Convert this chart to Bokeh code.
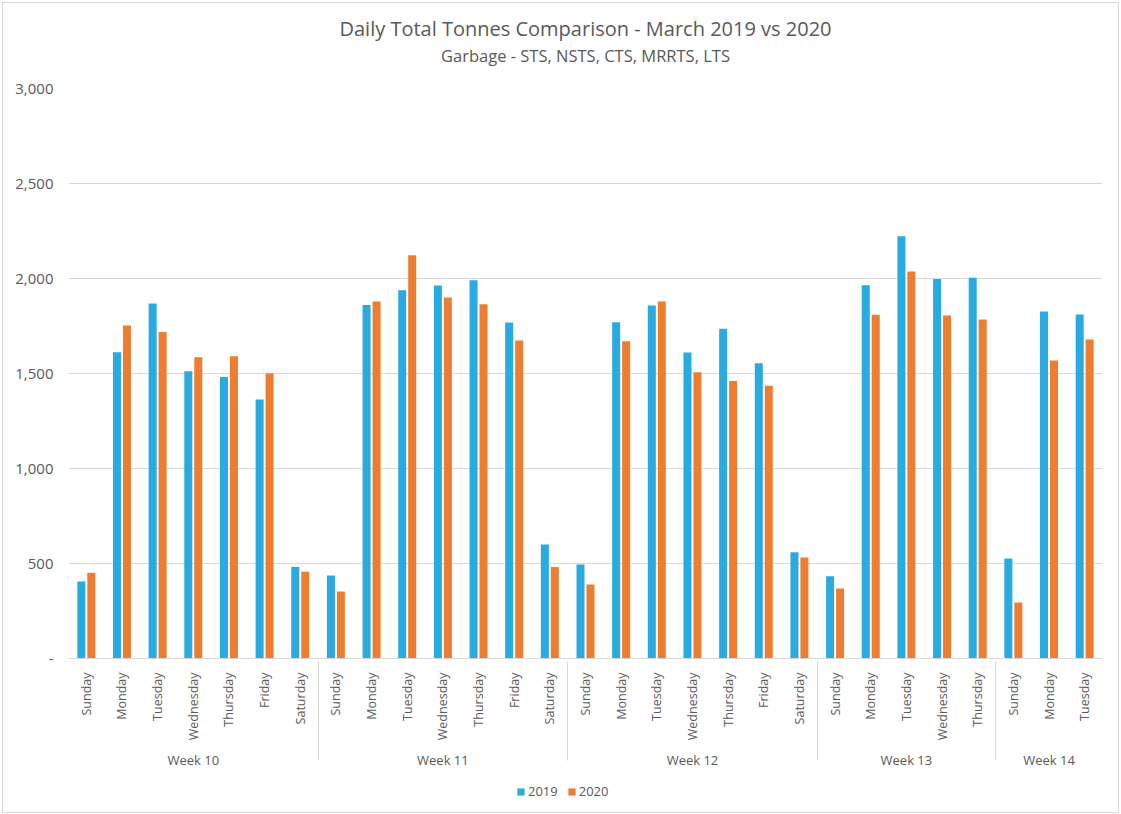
import math
from bokeh.plotting import figure
from bokeh.layouts import column
from bokeh.models import (FactorRange, ColumnDataSource, Legend, LegendItem,
                          FixedTicker, NumeralTickFormatter, Title, Range1d)
from bokeh.transform import dodge
from bokeh.embed import file_html
from bokeh.resources import INLINE

# ---------------- data ----------------
weeks = (["Week 10"] * 7 + ["Week 11"] * 7 + ["Week 12"] * 7 +
         ["Week 13"] * 5 + ["Week 14"] * 3)
days = (["Sunday", "Monday", "Tuesday", "Wednesday", "Thursday", "Friday", "Saturday"] * 3 +
        ["Sunday", "Monday", "Tuesday", "Wednesday", "Thursday"] +
        ["Sunday", "Monday", "Tuesday"])
tonnes_2019 = [405, 1612, 1868, 1512, 1482, 1363, 481,
               437, 1861, 1938, 1963, 1991, 1768, 600,
               495, 1770, 1858, 1611, 1735, 1554, 559,
               433, 1965, 2223, 1998, 2004,
               526, 1826, 1810]
tonnes_2020 = [451, 1753, 1719, 1586, 1591, 1500, 456,
               353, 1879, 2123, 1900, 1865, 1674, 481,
               389, 1670, 1879, 1507, 1461, 1435, 532,
               368, 1809, 2037, 1805, 1784,
               295, 1568, 1679]
y_ticks = [0, 500, 1000, 1500, 2000, 2500, 3000]
series_names = ["2019", "2020"]

title_text = "Daily Total Tonnes Comparison - March 2019 vs 2020"
subtitle_text = "Garbage - STS, NSTS, CTS, MRRTS, LTS"

# ---------------- styling ----------------
BLUE = "#29ABE2"
ORANGE = "#ED7D31"
TEXT = "#595959"
GRID = "#D9D9D9"
FONT = "Open Sans"

factors = list(zip(weeks, days))
source = ColumnDataSource(dict(x=factors, y2019=tonnes_2019, y2020=tonnes_2020))

x_range = FactorRange(factors=factors, group_padding=0, factor_padding=0,
                      range_padding=0)

p = figure(x_range=x_range, y_range=Range1d(0, 3000),
           frame_width=1034, frame_height=570, output_backend="svg",
           toolbar_location=None, title=None,
           min_border_left=65, min_border_right=16, min_border_top=85,
           min_border_bottom=120)

r1 = p.vbar(x=dodge("x", -0.14, range=p.x_range), top="y2019", width=0.225,
            source=source, color=BLUE, line_color=None)
r2 = p.vbar(x=dodge("x", 0.14, range=p.x_range), top="y2020", width=0.225,
            source=source, color=ORANGE, line_color=None)

# titles (spacer closest to the frame, then subtitle, then main title)
p.add_layout(Title(text=" ", text_font_size="2px", standoff=18), "above")
p.add_layout(Title(text=subtitle_text, align="center", text_font=FONT,
                   text_font_size="16.5px", text_font_style="normal",
                   text_color=TEXT, standoff=0, offset=-23), "above")
p.add_layout(Title(text=title_text, align="center", text_font=FONT,
                   text_font_size="20px", text_font_style="normal",
                   text_color=TEXT, standoff=0, offset=-23), "above")

# y axis
p.yaxis.ticker = FixedTicker(ticks=y_ticks)
p.yaxis.formatter = NumeralTickFormatter(format="0,0")
p.yaxis.major_label_overrides = {0: "-"}
p.yaxis.axis_line_color = None
p.yaxis.major_tick_line_color = None
p.yaxis.minor_tick_line_color = None
p.yaxis.major_label_text_font = FONT
p.yaxis.major_label_text_font_size = "15px"
p.yaxis.major_label_text_color = TEXT
p.yaxis.major_label_standoff = 9

# x axis
p.xaxis.axis_line_color = GRID
p.xaxis.major_tick_line_color = None
p.xaxis.minor_tick_line_color = None
p.xaxis.major_label_orientation = math.pi / 2
p.xaxis.major_label_standoff = 8
p.xaxis.major_label_text_font = FONT
p.xaxis.major_label_text_font_size = "12.5px"
p.xaxis.major_label_text_color = TEXT
p.xaxis.group_text_font = FONT
p.xaxis.group_text_font_size = "13px"
p.xaxis.group_text_color = TEXT
p.xaxis.group_text_font_style = "normal"
p.xaxis.separator_line_color = GRID
p.xaxis.separator_line_width = 1

p.xgrid.grid_line_color = None
p.ygrid.grid_line_color = GRID
p.outline_line_color = None

# ---------------- legend strip below the chart ----------------
lf = figure(width=1115, height=34, x_range=Range1d(0, 1), y_range=Range1d(0, 1),
            x_axis_type=None, y_axis_type=None, output_backend="svg",
            toolbar_location=None, min_border=0)
lf.xgrid.grid_line_color = None
lf.ygrid.grid_line_color = None
lf.outline_line_color = None
# zero-height key bars: they only give the legend its swatches
key = ColumnDataSource(dict(x=[0.5], top=[0]))
k1 = lf.vbar(x="x", top="top", width=0.01, source=key, color=BLUE, line_color=None)
k2 = lf.vbar(x="x", top="top", width=0.01, source=key, color=ORANGE, line_color=None)

legend = Legend(items=[LegendItem(label=series_names[0], renderers=[k1]),
                       LegendItem(label=series_names[1], renderers=[k2])],
                orientation="horizontal", location=(448, 12),
                label_text_font=FONT, label_text_font_size="13px",
                label_text_color=TEXT, glyph_width=9, glyph_height=9,
                border_line_color=None, background_fill_alpha=0,
                spacing=9, padding=2, margin=0, label_standoff=3)
lf.add_layout(legend, "center")

layout = column(p, lf, spacing=0, margin=(3, 3, 3, 3),
                styles={"outline": "1px solid #D9D9D9"})

open("out.html", "w").write(file_html(layout, INLINE))
